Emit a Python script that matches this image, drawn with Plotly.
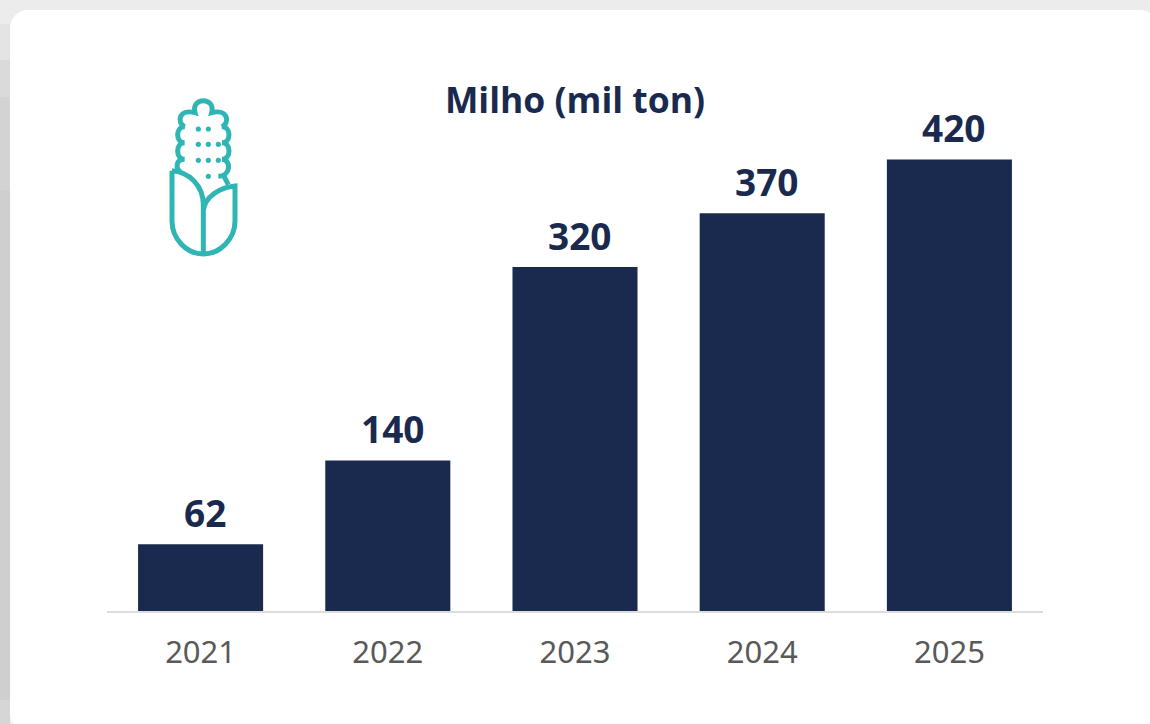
import plotly.graph_objects as go

years = ["2021", "2022", "2023", "2024", "2025"]
values = [62, 140, 320, 370, 420]

NAVY = "#1a2a4f"
TEAL = "#2fb6b4"
W, H = 1150, 724
L, R, T, B = 107, 107, 72, 113
PW, PH = W - L - R, H - T - B


def px(x):
    return (x - L) / PW


def py(y):
    return 1 - (y - T) / PH


def path(cmds):
    out = []
    for c in cmds:
        if isinstance(c, str):
            out.append(c)
        else:
            out.append(f"{px(150 + c[0] / 3):.5f},{py(90 + c[1] / 3):.5f}")
    return " ".join(out)


def rect(x0, y0, x1, y1, color):
    return dict(type="rect", xref="paper", yref="paper", x0=px(x0), x1=px(x1),
                y0=py(y0), y1=py(y1), fillcolor=color, line_width=0, layer="below")


shapes = [
    rect(0, 0, W, H, "#ececec"),
    rect(0, 24, 10, 60, "#e4e4e4"),
    rect(0, 60, 10, 97, "#dadada"),
    rect(0, 97, 10, 190, "#d3d3d3"),
    rect(0, 190, 10, 700, "#cfcfcf"),
    rect(0, 700, 10, H, "#d6d6d6"),
]

# rounded white card
r = 18
cx0, cy0, cx1, cy1 = 10, 10, 1158, 732
k = 0.45 * r
card = [
    ("M", cx0 + r, cy0), ("L", cx1 - r, cy0),
    ("C", cx1 - k, cy0, cx1, cy0 + k, cx1, cy0 + r),
    ("L", cx1, cy1 - r),
    ("C", cx1, cy1 - k, cx1 - k, cy1, cx1 - r, cy1),
    ("L", cx0 + r, cy1),
    ("C", cx0 + k, cy1, cx0, cy1 - k, cx0, cy1 - r),
    ("L", cx0, cy0 + r),
    ("C", cx0, cy0 + k, cx0 + k, cy0, cx0 + r, cy0),
]
card_d = ""
for seg in card:
    pts = seg[1:]
    card_d += seg[0] + " ".join(f"{px(pts[i]):.5f},{py(pts[i + 1]):.5f}" for i in range(0, len(pts), 2)) + " "
shapes.append(dict(type="path", xref="paper", yref="paper", path=card_d + "Z",
                   fillcolor="white", line_width=0, layer="below"))

# corn icon (drawn in zoom-crop coordinates)
cob = path([
    "M", (92, 246),
    "C", (76, 238), (76, 208), (104, 208),
    "C", (76, 208), (76, 158), (104, 158),
    "C", (76, 158), (76, 110), (104, 110),
    "C", (80, 100), (85, 55), (135, 68),
    "C", (122, 20), (198, 20), (185, 68),
    "C", (235, 55), (240, 100), (216, 110),
    "C", (244, 110), (244, 158), (216, 158),
    "C", (244, 158), (244, 208), (216, 208),
    "C", (244, 208), (244, 258), (205, 259),
    "M", (222, 259), "L", (235, 284),
])
husk = path([
    "M", (66, 242),
    "L", (66, 392),
    "C", (66, 447), (110, 492), (160, 492),
    "C", (210, 492), (255, 447), (255, 392),
    "L", (255, 288),
    "C", (210, 292), (165, 320), (160, 362),
    "M", (66, 242),
    "C", (115, 245), (160, 285), (160, 345),
    "L", (160, 492),
])
for d in (cob, husk):
    shapes.append(dict(type="path", xref="paper", yref="paper", path=d,
                       line=dict(color=TEAL, width=5), layer="above"))

dots = [(145, 117), (175, 117), (145, 163), (175, 163), (205, 163),
        (145, 211), (175, 211), (205, 211), (175, 259)]
for zx, zy in dots:
    cx, cy = 150 + zx / 3, 90 + zy / 3
    shapes.append(dict(type="circle", xref="paper", yref="paper",
                       x0=px(cx - 2.6), x1=px(cx + 2.6), y0=py(cy + 2.6), y1=py(cy - 2.6),
                       fillcolor=TEAL, line_width=0, layer="above"))

annotations = [
    dict(x=i, y=v, xref="x", yref="y", text=f"<b>{v}</b>", showarrow=False,
         xanchor="center", yanchor="middle", xshift=4.5, yshift=31.5,
         font=dict(family="Open Sans", size=37, color=NAVY))
    for i, v in enumerate(values)
]

fig = go.Figure(go.Bar(
    x=years, y=values, marker=dict(color=NAVY, line_width=0), cliponaxis=False,
))
fig.update_layout(
    width=W, height=H, autosize=False,
    margin=dict(l=L, r=R, t=T, b=B, pad=0),
    paper_bgcolor="white", plot_bgcolor="rgba(0,0,0,0)",
    bargap=0.332, showlegend=False, shapes=shapes, annotations=annotations,
    title=dict(text="<b>Milho (mil ton)</b>", x=575 / W, xanchor="center",
               y=1 - 101 / H, yanchor="middle",
               font=dict(family="Open Sans", size=35.5, color=NAVY)),
    xaxis=dict(type="category", range=[-0.5, 4.5], showgrid=False, zeroline=False, showline=True,
               linecolor="#dddddd", linewidth=2, ticks="", ticklen=0, ticklabelstandoff=13,
               tickfont=dict(family="Noto Sans", size=31, color="#595959")),
    yaxis=dict(range=[0, 501.3], visible=False, showgrid=False, zeroline=False),
)
fig.write_html("out.html", config={"displayModeBar": False},
               post_script="document.body.style.margin='0';document.body.style.overflow='hidden';")
